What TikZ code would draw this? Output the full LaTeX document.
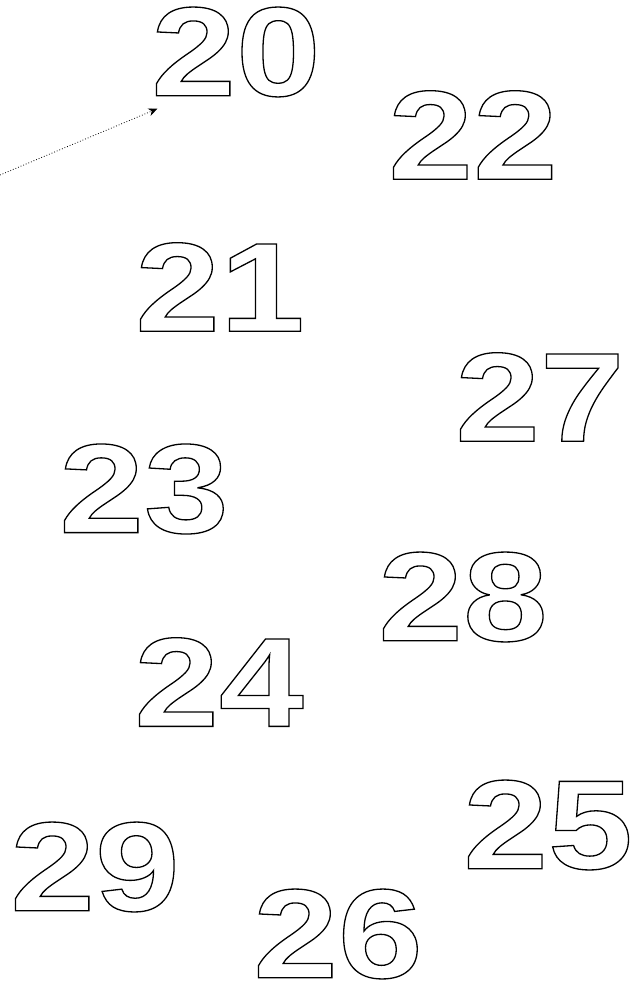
\documentclass[tikz,border=0pt]{standalone}
\usepackage{fontspec}
\usepackage{tikz}
\usetikzlibrary{arrows.meta}
\newfontfamily\numfont{Liberation Sans}[FakeStretch=1.2]
\newcommand{\hollowtext}[1]{\special{pdf:literal direct 1 Tr 1.3 w}#1\special{pdf:literal direct 0 Tr 0.4 w}}

\begin{document}
\begin{tikzpicture}[
  x=1pt, y=-1pt,
  numlabel/.style={
    inner sep=0pt, anchor=center,
    font=\fontsize{127}{127}\selectfont\numfont\bfseries,
  },
]
\useasboundingbox (0,0) rectangle (642,985);

\node[numlabel] (n20) at (236, 52) {\hollowtext{20}};
\node[numlabel] (n22) at (473, 135) {\hollowtext{22}};
\node[numlabel] (n21) at (220, 287) {\hollowtext{21}};
\node[numlabel] (n27) at (540, 397) {\hollowtext{27}};
\node[numlabel] (n23) at (144, 489) {\hollowtext{23}};
\node[numlabel] (n28) at (463, 597) {\hollowtext{28}};
\node[numlabel] (n24) at (219, 682) {\hollowtext{24}};
\node[numlabel] (n25) at (548, 825) {\hollowtext{25}};
\node[numlabel] (n29) at (95, 867) {\hollowtext{29}};
\node[numlabel] (n26) at (338, 934) {\hollowtext{26}};

\coordinate (src) at (0, 175);
\draw[dotted, line width=0.8pt, -{Stealth[length=9pt, width=8pt]}, shorten >=4pt]
  (src) -- ([shift={(10,10)}]n20.south west);

\end{tikzpicture}
\end{document}
